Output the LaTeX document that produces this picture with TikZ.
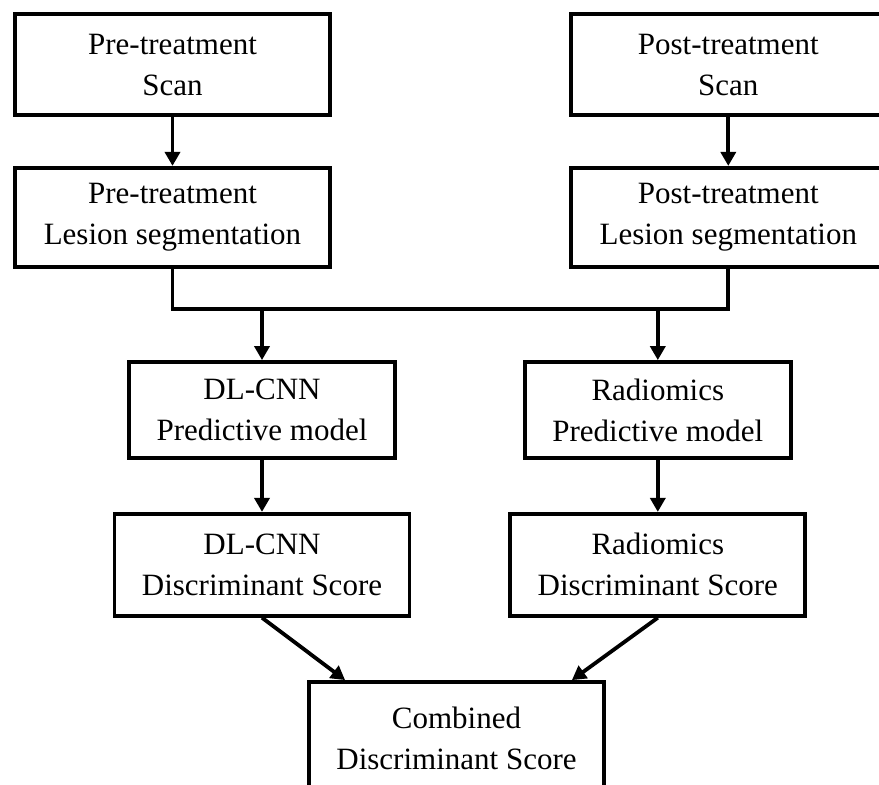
\documentclass[tikz,border=0pt]{standalone}
\usepackage{fontspec}
\setmainfont{Liberation Serif}
\usetikzlibrary{positioning, arrows.meta}

\begin{document}
\begin{tikzpicture}[x=1pt, y=-1pt, line width=3.8pt,
		block/.style={draw, rectangle, align=center, inner sep=0pt, font=\fontsize{31}{41}\selectfont},
		>={Triangle[length=14pt, width=15pt]}]
			\useasboundingbox (0,0) rectangle (879,785);
			
			\node[block, minimum width=315pt, minimum height=101pt] (prescan) at (172.5,64.5) {Pre-treatment\\Scan};
			\node[block, minimum width=315pt, minimum height=101pt, right=237pt of prescan] (postscan) {Post-treatment\\Scan};
			\node[block, minimum width=315pt, minimum height=99pt, below=49pt of prescan] (prelesion) {Pre-treatment\\Lesion segmentation};
			\node[block, minimum width=315pt, minimum height=99pt, below=49pt of postscan] (postlesion) {Post-treatment\\Lesion segmentation};
			\node[block, minimum width=266pt, minimum height=96pt] (dlpred) at (262,410) {DL-CNN\\Predictive model};
			\node[block, minimum width=266pt, minimum height=96pt, right=126pt of dlpred] (radpred) {Radiomics\\Predictive model};
			\node[block, minimum width=295pt, minimum height=102pt, below=52pt of dlpred] (dlscore) {DL-CNN\\Discriminant Score};
			\node[block, minimum width=295pt, minimum height=102pt, below=52pt of radpred] (radscore) {Radiomics\\Discriminant Score};
			\node[block, minimum width=295pt, minimum height=112pt] (combined) at (456.5,738) {Combined\\Discriminant Score};
			\coordinate (join) at (0,309);
			
			\draw[->] (prescan) -- (prelesion);
			\draw[->] (postscan) -- (postlesion);
			\draw (prelesion.south) -- (prelesion.south |- join) -- (postlesion.south |- join) -- (postlesion.south);
			\draw[->] (dlpred.north |- join) -- (dlpred.north);
			\draw[->] (radpred.north |- join) -- (radpred.north);
			\draw[->] (dlpred) -- (dlscore);
			\draw[->] (radpred) -- (radscore);
			\draw[->] (dlscore.south) -- ([xshift=38pt]combined.north west);
			\draw[->] (radscore.south) -- ([xshift=-34pt]combined.north east);
		\end{tikzpicture}
\end{document}
